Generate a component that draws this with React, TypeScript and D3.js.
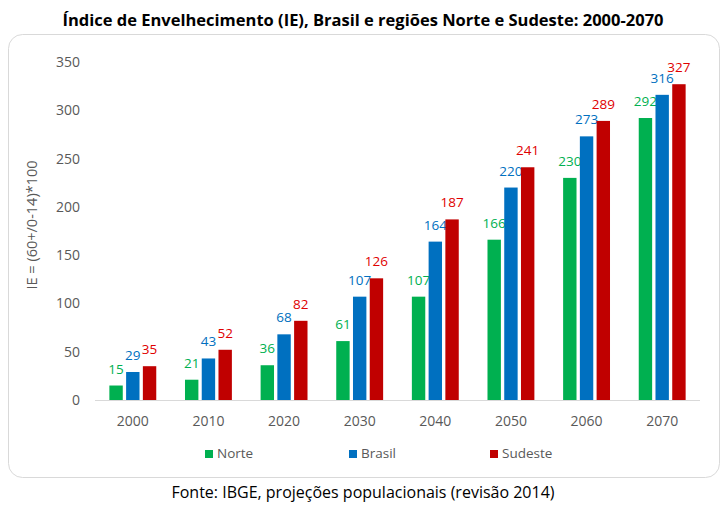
import * as d3 from 'd3'

const YEARS = ['2000', '2010', '2020', '2030', '2040', '2050', '2060', '2070']
const SERIES = ['Norte', 'Brasil', 'Sudeste']
const NORTE = [15, 21, 36, 61, 107, 166, 230, 292]
const BRASIL = [29, 43, 68, 107, 164, 220, 273, 316]
const SUDESTE = [35, 52, 82, 126, 187, 241, 289, 327]
const Y_TICKS = [0, 50, 100, 150, 200, 250, 300, 350]

const BAR_COLORS = ['#00B050', '#0070C0', '#C00000']
const LABEL_COLORS = ['#00B050', '#0070C0', '#E00000']

const W = 727
const H = 506
const FONT = '"Open Sans", Lato, sans-serif'

export default function App() {
  const values = [NORTE, BRASIL, SUDESTE]

  const x = d3.scaleBand<string>().domain(YEARS).range([95, 700]).paddingInner(0.38).paddingOuter(0.19)
  const xSub = d3.scaleBand<string>().domain(SERIES).range([0, x.bandwidth()]).paddingInner(0.2)
  const y = d3.scaleLinear().domain([0, 350]).range([400, 62])

  const legendX = [205, 349, 490]

  return (
    <svg width={W} height={H} style={{ position: 'absolute', left: 0, top: 0, background: '#fff' }} fontFamily={FONT}>
      <text x={363} y={26} textAnchor="middle" fontSize={16.5} fontWeight={700} fill="#000">
        Índice de Envelhecimento (IE), Brasil e regiões Norte e Sudeste: 2000-2070
      </text>

      <rect x={8.5} y={34.5} width={711} height={443} rx={14} fill="#fff" stroke="#D9D9D9" />

      {/* y ticks */}
      {Y_TICKS.map(t => (
        <text key={t} x={80} y={y(t) + 5} textAnchor="end" fontSize={14} fill="#595959">
          {t}
        </text>
      ))}

      <text
        transform={`translate(37,225) rotate(-90)`}
        textAnchor="middle"
        fontSize={14.5}
        fill="#595959"
      >
        IE = (60+/0-14)*100
      </text>

      <line x1={95} x2={700} y1={y(0) + 0.5} y2={y(0) + 0.5} stroke="#D9D9D9" />

      {/* bars */}
      {YEARS.map((yr, i) => (
        <g key={yr} transform={`translate(${x(yr)},0)`}>
          {SERIES.map((s, j) => {
            const v = values[j][i]
            const bx = xSub(s) ?? 0
            return (
              <g key={s}>
                <rect x={bx} y={y(v)} width={xSub.bandwidth()} height={y(0) - y(v)} fill={BAR_COLORS[j]} />
                <text
                  x={bx + xSub.bandwidth() / 2}
                  y={y(v) - 12}
                  textAnchor="middle"
                  fontSize={13.5}
                  fill={LABEL_COLORS[j]}
                >
                  {v}
                </text>
              </g>
            )
          })}
          <text x={x.bandwidth() / 2} y={426} textAnchor="middle" fontSize={14} fill="#595959">
            {yr}
          </text>
        </g>
      ))}

      {/* legend */}
      {SERIES.map((s, j) => (
        <g key={s}>
          <rect x={legendX[j]} y={450} width={8} height={8} fill={BAR_COLORS[j]} />
          <text x={legendX[j] + 12} y={458} fontSize={13.5} fill="#595959">
            {s}
          </text>
        </g>
      ))}

      <text x={363} y={498} textAnchor="middle" fontSize={16} fill="#000">
        Fonte: IBGE, projeções populacionais (revisão 2014)
      </text>
    </svg>
  )
}
